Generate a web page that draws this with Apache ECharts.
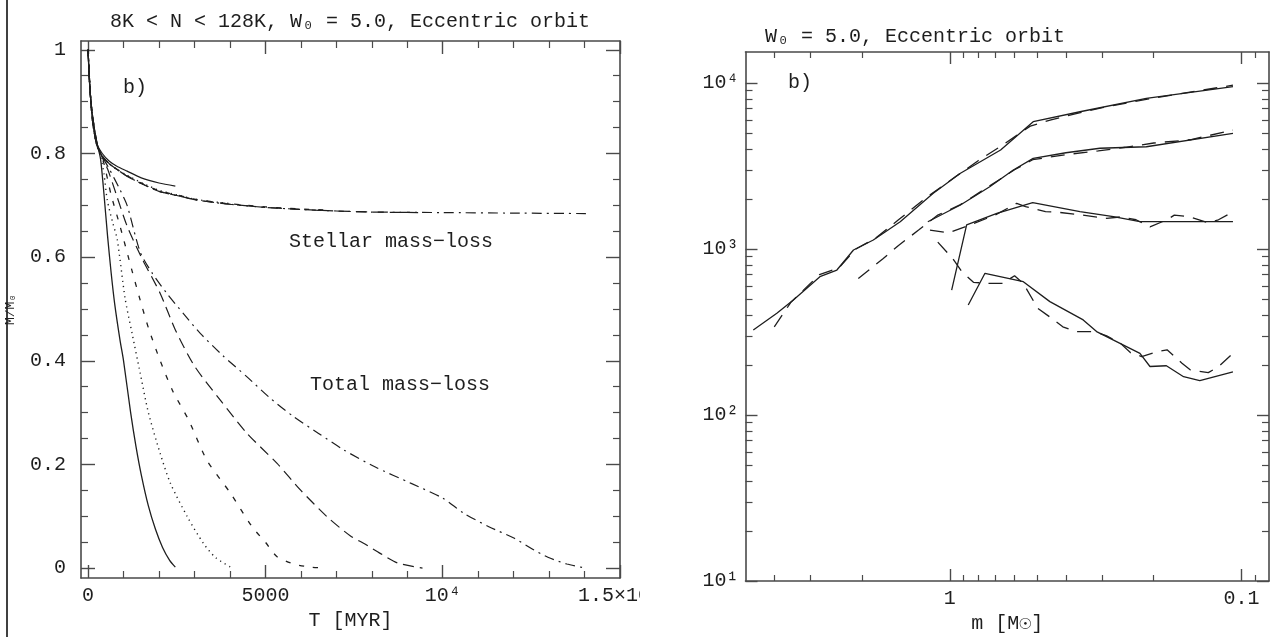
<!DOCTYPE html>
<html>
<head>
<meta charset="utf-8">
<script src="https://cdn.jsdelivr.net/npm/echarts@6/dist/echarts.min.js"></script>
<style>
html,body{margin:0;padding:0;background:#fff;}
#left{position:absolute;left:0;top:0;width:640px;height:637px;}
#right{position:absolute;left:640px;top:0;width:631px;height:637px;}
</style>
</head>
<body>
<div id="left"></div>
<div id="right"></div>
<script>
// ---------- Left panel data: T [MYR] vs M/M0 ----------
const leftXMajor = [0, 5000, 10000, 15000];
const leftXLabels = ['0', '5000', '10⁴', '1.5×10⁴'];
const leftXMinor = [1000,2000,3000,4000,6000,7000,8000,9000,11000,12000,13000,14000];
const leftYMajor = [0, 0.2, 0.4, 0.6, 0.8, 1.0];
const leftYLabels = ['0', '0.2', '0.4', '0.6', '0.8', '1'];
const leftYMinor = [0.05,0.1,0.15,0.25,0.3,0.35,0.45,0.5,0.55,0.65,0.7,0.75,0.85,0.9,0.95];

// Total mass-loss curves
const total8K = [[0,1],[30,0.95],[80,0.9],[150,0.86],[250,0.82],[350,0.79],[450,0.72],[550,0.64],[650,0.57],[750,0.51],[900,0.44],[1000,0.40],[1200,0.30],[1350,0.235],[1500,0.18],[1700,0.12],[1900,0.075],[2100,0.04],[2300,0.015],[2460,0.002]];
const total16K = [[0,1],[30,0.95],[80,0.9],[150,0.86],[250,0.82],[350,0.795],[450,0.76],[540,0.71],[700,0.665],[820,0.635],[1045,0.52],[1240,0.453],[1470,0.376],[1700,0.30],[2030,0.222],[2320,0.164],[2800,0.099],[3250,0.048],[3600,0.02],[4070,0.0]];
const total32K = [[0,1],[30,0.95],[80,0.9],[150,0.86],[250,0.82],[350,0.80],[450,0.78],[650,0.72],[900,0.66],[1234,0.575],[1469,0.517],[1704,0.463],[2034,0.40],[2400,0.34],[2834,0.286],[3352,0.208],[4011,0.145],[4623,0.08],[5000,0.05],[5330,0.022],[5800,0.008],[6271,0.002],[6740,0.0]];
const total64K = [[0,1],[30,0.95],[80,0.9],[150,0.86],[250,0.82],[350,0.80],[550,0.77],[800,0.72],[1100,0.66],[1500,0.60],[2034,0.53],[2458,0.46],[3000,0.39],[3729,0.324],[4482,0.26],[5330,0.202],[6000,0.15],[6742,0.099],[7400,0.062],[7768,0.048],[8249,0.028],[8729,0.01],[9430,0.0]];
const total128K = [[0,1],[30,0.95],[80,0.9],[150,0.86],[250,0.82],[350,0.80],[600,0.77],[900,0.73],[1100,0.70],[1469,0.61],[1800,0.57],[2222,0.53],[2700,0.49],[3164,0.453],[3800,0.41],[4482,0.369],[5100,0.33],[5800,0.292],[6500,0.26],[7213,0.228],[8100,0.195],[9096,0.164],[10000,0.135],[10593,0.106],[11300,0.08],[12006,0.058],[12500,0.038],[12966,0.021],[13500,0.008],[14040,0.0]];

// Stellar mass-loss curves
const stellar8K = [[0,1],[20,0.97],[50,0.93],[100,0.88],[150,0.85],[250,0.818],[400,0.80],[600,0.785],[800,0.776],[1100,0.766],[1500,0.753],[2000,0.743],[2460,0.737]];
const stellar16K = [[0,1],[20,0.97],[50,0.93],[100,0.88],[150,0.85],[250,0.815],[400,0.795],[600,0.78],[800,0.77],[1100,0.758],[1500,0.744],[2000,0.729],[2500,0.72],[3000,0.712],[3500,0.707],[4070,0.703]];
const stellar32K = [[0,1],[20,0.97],[50,0.93],[100,0.88],[150,0.85],[250,0.815],[400,0.795],[600,0.78],[800,0.77],[1100,0.757],[1500,0.743],[2000,0.728],[2500,0.72],[3000,0.712],[3500,0.707],[4000,0.703],[5000,0.697],[6000,0.693],[6740,0.691]];
const stellar64K = [[0,1],[20,0.97],[50,0.93],[100,0.88],[150,0.85],[250,0.815],[400,0.795],[600,0.78],[800,0.77],[1100,0.756],[1500,0.742],[2000,0.727],[2500,0.719],[3000,0.711],[3500,0.706],[4000,0.702],[5000,0.696],[6000,0.692],[7000,0.689],[8000,0.687],[9430,0.686]];
const stellar128K = [[0,1],[20,0.97],[50,0.93],[100,0.88],[150,0.85],[250,0.815],[400,0.795],[600,0.78],[800,0.77],[1100,0.756],[1500,0.742],[2000,0.727],[2500,0.719],[3000,0.711],[3500,0.706],[4000,0.702],[5000,0.696],[6000,0.692],[7000,0.689],[8000,0.687],[10000,0.686],[12000,0.685],[14100,0.684]];

// ---------- Right panel data: m [Msun] vs quantity ----------
const rightXMajor = [1, 0.1];
const rightXLabels = ['1', '0.1'];
const rightXMinor = [4, 3, 2, 0.9, 0.8, 0.7, 0.6, 0.5, 0.4, 0.3, 0.2, 0.09];
const rightYMajor = [10, 100, 1000, 10000];
const rightYLabels = ['10¹', '10²', '10³', '10⁴'];
const rightYMinor = [20,30,40,50,60,70,80,90,200,300,400,500,600,700,800,900,2000,3000,4000,5000,6000,7000,8000,9000];

const solid1 = [[4.72,325],[3.92,410],[3.44,493],[2.79,681],[2.44,747],[2.14,986],[1.83,1133],[1.48,1459],[1.14,2167],[0.92,2858],[0.67,3946],[0.518,5850],[0.358,6710],[0.212,8086],[0.107,9508]];
const dashed1 = [[4.0,340],[3.5,480],[2.8,700],[2.4,770],[2.1,1000],[1.8,1160],[1.5,1500],[1.2,2050],[0.95,2750],[0.8,3400],[0.65,4300],[0.53,5500],[0.45,6000],[0.36,6600],[0.3,7100],[0.21,8000],[0.107,9700]];
const solid2 = [[1.19,1459],[0.92,1842],[0.73,2372],[0.606,2993],[0.518,3516],[0.4,3800],[0.306,4045],[0.212,4130],[0.107,4977]];
const dashed2 = [[2.06,665],[1.7,870],[1.5,1050],[1.28,1300],[1.1,1600],[0.92,1850],[0.73,2400],[0.6,3000],[0.52,3450],[0.4,3700],[0.31,3900],[0.25,4100],[0.2,4350],[0.15,4550],[0.107,5200]];
const solid3 = [[0.986,566],[0.876,1396],[0.69,1641],[0.52,1900],[0.358,1678],[0.275,1567],[0.223,1460],[0.107,1460]];
const dashed3 = [[1.17,1300],[1.01,1250],[0.85,1400],[0.7,1600],[0.59,1884],[0.55,1800],[0.47,1680],[0.42,1660],[0.35,1600],[0.29,1530],[0.26,1560],[0.23,1500],[0.206,1360],[0.18,1500],[0.17,1600],[0.15,1560],[0.13,1440],[0.12,1500],[0.107,1670]];
const solid4 = [[0.865,460],[0.758,714],[0.56,635],[0.454,482],[0.349,374],[0.314,318],[0.223,235],[0.206,196],[0.181,198],[0.158,170],[0.139,161],[0.107,182]];
const dashed4 = [[1.1,1100],[0.98,880],[0.91,730],[0.83,630],[0.73,620],[0.66,620],[0.6,690],[0.56,620],[0.5,440],[0.45,385],[0.41,340],[0.37,318],[0.32,318],[0.29,300],[0.26,270],[0.24,237],[0.22,225],[0.195,240],[0.18,247],[0.16,205],[0.15,187],[0.13,180],[0.12,195],[0.107,235]];

// ---------- helpers ----------
const FONT = '"Liberation Mono", "DejaVu Sans Mono", monospace';
const AX = '#4a4a4a';
const INK = '#1e1e1e';
function nearestLabel(vals, labels, v, log) {
  let best = 0, bd = Infinity;
  vals.forEach((t, i) => { const d = log ? Math.abs(Math.log(t) - Math.log(v)) : Math.abs(t - v); if (d < bd) { bd = d; best = i; } });
  return labels[best];
}
function axisSet(kind, type, min, max, major, labels, minor, opts) {
  const pos = kind === 'x' ? ['bottom', 'top'] : ['left', 'right'];
  const log = type === 'log';
  const base = { type: type, min: min, max: max, splitLine: { show: false }, inverse: !!opts.inverse, logBase: 10 };
  const lineStyle = { color: AX, width: 1.6 };
  return [
    Object.assign({}, base, {
      position: pos[0], axisLine: { show: true, onZero: false, lineStyle: lineStyle },
      axisTick: { show: true, inside: true, length: opts.majorLen, customValues: major, lineStyle: { color: AX, width: 1.4 } },
      axisLabel: { show: true, customValues: major, margin: opts.labelMargin, color: INK, fontFamily: FONT, fontSize: opts.labelSize,
        hideOverlap: false, formatter: v => nearestLabel(major, labels, v, log) },
      name: opts.name || '', nameLocation: 'middle', nameGap: opts.nameGap || 0,
      nameTextStyle: opts.nameStyle || {}
    }),
    Object.assign({}, base, {
      position: pos[0], axisLine: { show: false, onZero: false },
      axisTick: { show: true, inside: true, length: opts.minorLen, customValues: minor, lineStyle: { color: AX, width: 1.2 } },
      axisLabel: { show: false }
    }),
    Object.assign({}, base, {
      position: pos[1], axisLine: { show: true, onZero: false, lineStyle: lineStyle },
      axisTick: { show: true, inside: true, length: opts.majorLen, customValues: major, lineStyle: { color: AX, width: 1.4 } },
      axisLabel: { show: false }
    }),
    Object.assign({}, base, {
      position: pos[1], axisLine: { show: false, onZero: false },
      axisTick: { show: true, inside: true, length: opts.minorLen, customValues: minor, lineStyle: { color: AX, width: 1.2 } },
      axisLabel: { show: false }
    })
  ];
}
function line(data, type, width) {
  return { type: 'line', data: data, showSymbol: false, symbol: 'none', smooth: 0.25, animation: false,
    xAxisIndex: 0, yAxisIndex: 0, silent: true,
    lineStyle: { color: INK, width: width || 1.2, type: type, cap: 'butt' } };
}
function rline(data, type) {
  return { type: 'line', data: data, showSymbol: false, symbol: 'none', smooth: false, animation: false,
    xAxisIndex: 0, yAxisIndex: 0, silent: true,
    lineStyle: { color: INK, width: 1.3, type: type, cap: 'butt' } };
}
function txt(x, y, s, size, align) {
  return { type: 'text', x: x, y: y, z: 10,
    style: { text: s, font: size + 'px ' + FONT, fill: INK, textAlign: align || 'left', textVerticalAlign: 'middle' } };
}

// ---------- left chart ----------
const left = echarts.init(document.getElementById('left'), null, { renderer: 'canvas' });
const DOT = [1.2, 4];
const SDASH = [5, 9];
const LDASH = [11, 6];
const DASHDOT = [10, 5, 2, 5];
left.setOption({
  animation: false,
  grid: { left: 81, top: 41, width: 539, height: 537, containLabel: false, outerBoundsMode: 'none' },
  xAxis: axisSet('x', 'value', -200, 15000, leftXMajor, leftXLabels, leftXMinor,
    { majorLen: 13, minorLen: 7, labelMargin: 8, labelSize: 20, name: 'T [MYR]', nameGap: 32,
      nameStyle: { fontFamily: FONT, fontSize: 20, color: INK } }),
  yAxis: axisSet('y', 'value', -0.019, 1.017, leftYMajor, leftYLabels, leftYMinor,
    { majorLen: 14, minorLen: 7, labelMargin: 15, labelSize: 20, name: 'M/M₀', nameGap: 64,
      nameStyle: { fontFamily: FONT, fontSize: 13, color: INK } }),
  series: [
    line(total8K, 'solid', 1.3), line(stellar8K, 'solid', 1.2),
    line(total16K, DOT, 1.4), line(stellar16K, DOT, 1.4),
    line(total32K, SDASH, 1.3), line(stellar32K, SDASH, 1.3),
    line(total64K, LDASH, 1.2), line(stellar64K, LDASH, 1.2),
    line(total128K, DASHDOT, 1.2), line(stellar128K, DASHDOT, 1.2)
  ],
  graphic: [
    { type: 'line', shape: { x1: 7, y1: 0, x2: 7, y2: 637 }, style: { stroke: '#000', lineWidth: 1.5 } },
    txt(350, 22, '8K < N < 128K, W₀ = 5.0, Eccentric orbit', 20, 'center'),
    txt(123, 88, 'b)', 20),
    txt(289, 242, 'Stellar mass−loss', 20),
    txt(310, 385, 'Total mass−loss', 20)
  ]
});

// ---------- right chart ----------
const right = echarts.init(document.getElementById('right'), null, { renderer: 'canvas' });
right.setOption({
  animation: false,
  grid: { left: 105.5, top: 52, width: 523.5, height: 529, containLabel: false, outerBoundsMode: 'none' },
  xAxis: axisSet('x', 'log', 0.0805, 5.02, rightXMajor, rightXLabels, rightXMinor,
    { inverse: true, majorLen: 12, minorLen: 6, labelMargin: 8, labelSize: 20, name: 'm [M☉]', nameGap: 32,
      nameStyle: { fontFamily: FONT, fontSize: 20, color: INK } }),
  yAxis: axisSet('y', 'log', 10, 15370, rightYMajor, rightYLabels, rightYMinor,
    { majorLen: 12, minorLen: 7, labelMargin: 7, labelSize: 20 }),
  series: [
    rline(solid1, 'solid'), rline(dashed1, [14, 9]),
    rline(solid2, 'solid'), rline(dashed2, [14, 9]),
    rline(solid3, 'solid'), rline(dashed3, [14, 9]),
    rline(solid4, 'solid'), rline(dashed4, [14, 9])
  ],
  graphic: [
    txt(125, 37, 'W₀ = 5.0, Eccentric orbit', 20),
    txt(148, 83, 'b)', 20)
  ]
});
</script>
</body>
</html>
